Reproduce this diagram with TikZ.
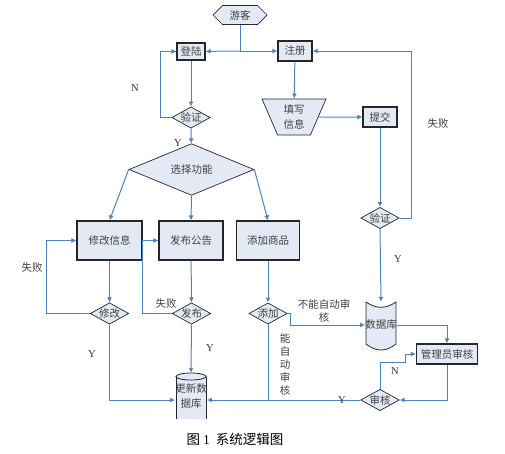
\documentclass[tikz,border=0pt]{standalone}
\usepackage{fontspec}
\setmainfont{Liberation Serif}
\newfontfamily\cjk{Noto Sans CJK SC}
\usetikzlibrary{shapes.geometric,shapes.symbols,arrows.meta}
\definecolor{flowline}{RGB}{79,129,189}
\definecolor{boxfill}{RGB}{228,234,245}

\begin{document}
\begin{tikzpicture}[x=1pt,y=-1pt]
\tikzstyle{every node}=[font=\cjk\fontsize{10.5}{15}\selectfont, text=black!75]
\tikzstyle{proc}=[draw=black!85, line width=1.1pt, fill=boxfill, inner sep=0pt]
\tikzstyle{test}=[draw=black!85, line width=0.7pt, fill=boxfill, diamond, aspect=1.8, inner sep=0pt, minimum width=37pt, minimum height=21pt]
\tikzstyle{flow}=[draw=flowline, line width=1pt, -{Latex[length=5pt,width=5pt]}]
\tikzstyle{link}=[draw=flowline, line width=1pt]
\tikzstyle{yn}=[font=\rmfamily\fontsize{10.5}{12}\selectfont, text=black!80]
\useasboundingbox (0,0) rectangle (505,453);

% start, login, register
\node[draw=black!85, line width=0.7pt, fill=boxfill, signal, signal to=west and east, minimum width=54pt, minimum height=19pt, inner sep=0pt] (guest) at (240,15) {游客};
\node[proc, minimum width=28pt, minimum height=17pt] (login) at (191,51.5) {登陆};
\node[proc, minimum width=34pt, minimum height=20pt] (reg) at (295,51) {注册};
\node[test] (chk1) at (191,117.5) {验证};
\node[draw=black!85, line width=0.7pt, fill=boxfill, trapezium, shape border rotate=180, trapezium left angle=68, trapezium right angle=68, trapezium stretches=true, minimum width=64pt, minimum height=36pt, align=center, inner sep=0pt] (form) at (294,117) {填写\\信息};
\node[proc, minimum width=34pt, minimum height=20pt] (submit) at (380,117) {提交};
\node[test] (chk2) at (380,218) {验证};

% functions
\node[draw=black!85, line width=0.7pt, fill=boxfill, diamond, minimum width=125pt, minimum height=40pt, inner sep=0pt] (choose) at (191.5,169.5) {选择功能};
\node[proc, minimum width=65pt, minimum height=39pt] (edit) at (109.5,240.5) {修改信息};
\node[proc, minimum width=64pt, minimum height=39pt] (post) at (191,240.5) {发布公告};
\node[proc, minimum width=63pt, minimum height=39pt] (add) at (268,240.5) {添加商品};
\node[test] (mod) at (109.5,313.5) {修改};
\node[test] (pub) at (191.5,313.5) {发布};
\node[test] (addd) at (268,313.5) {添加};

% databases
\draw[draw=black!85, line width=0.8pt, fill=boxfill] (366,302) .. controls (376,309) and (386,309) .. (396,302) -- (396,344) .. controls (386,352) and (376,352) .. (366,344) -- cycle;
\node[minimum width=30pt, minimum height=46pt, inner sep=0pt] (db) at (381,325) {数据库};
\fill[boxfill] (176,376.5) rectangle (206,419);
\draw[black!85, line width=0.8pt] (176,376.5) -- (176,419) (206,376.5) -- (206,419);
\draw[black!85, line width=0.8pt, fill=boxfill] (191,376.5) ellipse [x radius=15pt, y radius=3.5pt];
\node[minimum width=30pt, minimum height=46pt, inner sep=0pt, align=center] (upd) at (191,396) {更新数\\据库};
\node[proc, minimum width=61pt, minimum height=20pt] (admin) at (447,354) {管理员审核};
\node[test] (aud) at (380,400) {审核};

% connectors
\coordinate (j1) at (240,51);
\draw[link] (guest) -- (j1);
\draw[flow] (j1) -- (login);
\draw[flow] (j1) -- (reg);
\draw[flow] (login) -- (chk1);
\draw[flow] (chk1.west) -- ++(-11,0) |- (login.west);
\draw[flow] (chk1) -- (choose);
\draw[flow] (reg) -- (form);
\draw[flow] (form) -- (submit);
\draw[flow] (submit) -- (chk2);
\draw[flow] (chk2.east) -- ++(12,0) |- (reg.east);
\draw[flow] (choose.west) -- (edit.north);
\draw[flow] (choose.south) -- (post.north);
\draw[flow] (choose.east) -- (add.north);
\draw[flow] (edit) -- (mod);
\draw[flow] (post) -- (pub);
\draw[flow] (add) -- (addd);
\draw[flow] (mod.west) -- ++(-43,0) |- (edit.west);
\draw[flow] (pub.west) -- ++(-29,0) |- (post.west);
\draw[flow] (mod.south) |- ([yshift=-4pt]upd.west);
\draw[flow] (pub.south) -- (upd.north);
\coordinate (j2) at (addd.south |- aud.west);
\draw[link] (addd.south) -- (j2);
\draw[flow] (aud.west) -- ([yshift=-4pt]upd.east);
\draw[flow] (addd.east) -- ++(3,0) |- (db.west);
\draw[flow] (chk2.south) -- (db.north);
\draw[flow] (db.east) -| (admin.north);
\draw[flow] (admin.south) |- (aud.east);
\draw[flow] (aud.north) -- ++(0,-26) -- ++(25,0) |- (admin.west);

% labels
\node[yn] (n1) at (135,88) {N};
\node[yn] (y1) at (178,143) {Y};
\node (f1) at (438,124) {失败};
\node (f2) at (32,268) {失败};
\node (f3) at (166,304) {失败};
\node[yn] (y2) at (92,354) {Y};
\node[yn] (y3) at (210,348) {Y};
\node[yn] (y4) at (398,259) {Y};
\node[align=center, font=\cjk\fontsize{10.5}{13}\selectfont] (nauto) at (324,311) {不能自动审\\核};
\node[align=center, font=\cjk\fontsize{10.5}{13.2}\selectfont] (auto) at (285,364.5) {能\\自\\动\\审\\核};
\node[yn] (n2) at (395,371) {N};
\node[yn] (y5) at (342,400) {Y};
\node[font=\cjk\fontsize{13.5}{16}\selectfont, text=black] (cap) at (235,439) {图 {\rmfamily 1}\ \ 系统逻辑图};
\end{tikzpicture}
\end{document}
